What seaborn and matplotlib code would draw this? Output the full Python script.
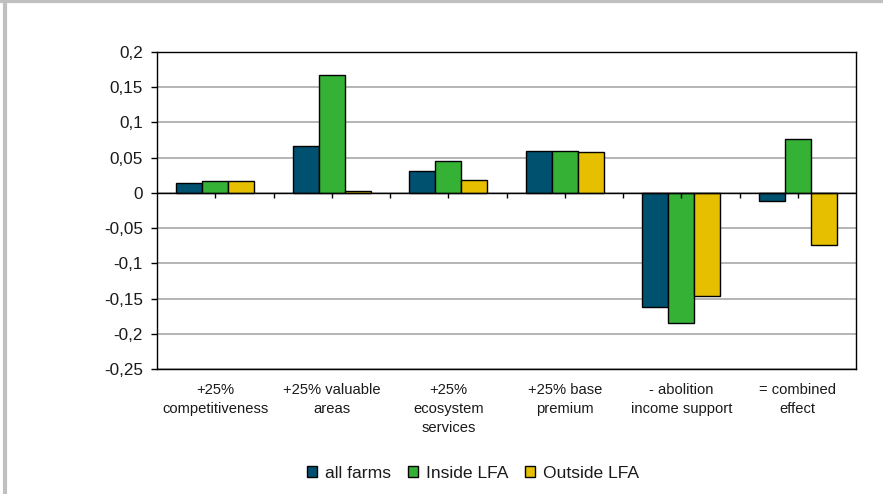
import matplotlib
matplotlib.use("Agg")
import matplotlib.pyplot as plt
from matplotlib.lines import Line2D
from matplotlib.ticker import FixedLocator, FuncFormatter
import numpy as np
import pandas as pd
import seaborn as sns

# Scenario effects by farm group
scenarios = [
    "+25%\ncompetitiveness",
    "+25% valuable\nareas",
    "+25%\necosystem\nservices",
    "+25% base\npremium",
    "- abolition\nincome support",
    "= combined\neffect",
]
groups = ["all farms", "Inside LFA", "Outside LFA"]
all_farms = [0.014, 0.067, 0.031, 0.059, -0.162, -0.011]
inside_lfa = [0.017, 0.167, 0.045, 0.059, -0.184, 0.077]
outside_lfa = [0.017, 0.002, 0.018, 0.058, -0.147, -0.074]
y_ticks = [-0.25, -0.2, -0.15, -0.1, -0.05, 0, 0.05, 0.1, 0.15, 0.2]

colors = ["#005070", "#35B235", "#E6C000"]

df = pd.DataFrame({
    "scenario": scenarios * 3,
    "group": np.repeat(groups, len(scenarios)),
    "value": all_farms + inside_lfa + outside_lfa,
})

sns.set_theme(style="white")
plt.rcParams["font.family"] = ["Liberation Sans", "DejaVu Sans"]

fig = plt.figure(figsize=(8.83, 4.94), dpi=100)
ax = fig.add_axes([157 / 883, 1 - 369 / 494, (856 - 157) / 883, (369 - 52) / 494])

sns.barplot(
    data=df, x="scenario", y="value", hue="group", order=scenarios,
    hue_order=groups, palette=colors, saturation=1, width=0.672, gap=0,
    edgecolor="black", linewidth=1.0, errorbar=None, ax=ax, zorder=2,
)

ymin, ymax = y_ticks[0], y_ticks[-1]
ax.set_ylim(ymin, ymax)
ax.set_xlim(-0.5, len(scenarios) - 0.5)
ax.yaxis.set_major_locator(FixedLocator(y_ticks))
ax.yaxis.set_major_formatter(
    FuncFormatter(lambda v, p: ("%g" % round(v, 2)).replace(".", ","))
)
ax.grid(axis="y", color="#a0a0a0", linewidth=1.1, zorder=0)
ax.set_axisbelow(True)
ax.set_xlabel("")
ax.set_ylabel("")

for s in ax.spines.values():
    s.set_color("black")
    s.set_linewidth(1.0)

ax.tick_params(axis="y", left=True, length=4, width=1, color="black",
               pad=6, labelsize=12.3, labelcolor="#1a1a1a")
ax.tick_params(axis="x", bottom=False, length=0, pad=10,
               labelsize=10.6, labelcolor="#1a1a1a")
for lab in ax.get_xticklabels():
    lab.set_linespacing(1.45)

# Zero line with category tick marks hanging below it
ax.axhline(0, color="black", linewidth=1.0, zorder=3)
tick_x = np.arange(0, len(scenarios) - 0.5, 0.5)
ax.plot(tick_x, np.zeros_like(tick_x), linestyle="none", marker=3,
        markersize=3.5, markeredgewidth=1.0, color="black", zorder=3,
        clip_on=False)

# Legend below the chart
handles, labels = ax.get_legend_handles_labels()
if ax.get_legend() is not None:
    ax.get_legend().remove()
leg = fig.legend(
    handles, labels, loc="center", bbox_to_anchor=(473 / 883, 1 - 473 / 494),
    ncol=3, frameon=False, fontsize=12.6, handlelength=0.55,
    handleheight=0.55, handletextpad=0.45, columnspacing=1.0,
)
for t in leg.get_texts():
    t.set_color("#1a1a1a")

# Outer chart border (top and left edges)
fig.add_artist(Line2D([0.0053, 0.0053], [0, 1], transform=fig.transFigure,
                      color="#c0c0c0", linewidth=3))
fig.add_artist(Line2D([0, 1], [0.997, 0.997], transform=fig.transFigure,
                      color="#c0c0c0", linewidth=3))

fig.savefig("out.png", dpi=100, facecolor="white")
